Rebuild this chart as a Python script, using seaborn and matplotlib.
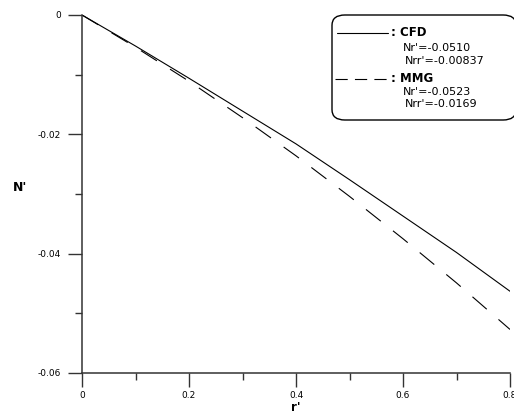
import numpy as np
import pandas as pd
import seaborn as sns
import matplotlib.pyplot as plt
from matplotlib.patches import FancyBboxPatch
from matplotlib.ticker import MultipleLocator

# data
r_vals = [0.0, 0.1, 0.2, 0.3, 0.4, 0.5, 0.6, 0.7, 0.8]
n_cfd = [0.0, -0.0052, -0.0106, -0.0161, -0.0216, -0.0276, -0.0337, -0.0398, -0.0463]
n_mmg = [0.0, -0.0054, -0.0111, -0.0172, -0.0236, -0.0304, -0.0375, -0.0449, -0.0527]
x_ticks = [0, 0.2, 0.4, 0.6, 0.8]
x_labels = ["0", "0.2", "0.4", "0.6", "0.8"]
y_ticks = [0, -0.02, -0.04, -0.06]
y_labels = ["0", "-0.02", "-0.04", "-0.06"]

df = pd.DataFrame({"r": r_vals * 2,
                   "N": n_cfd + n_mmg,
                   "model": ["CFD"] * len(r_vals) + ["MMG"] * len(r_vals)})

sns.set_style("ticks")
plt.rcParams['font.family'] = ['DejaVu Sans']
plt.rcParams['text.color'] = 'black'

fig = plt.figure(figsize=(5.14, 4.13), dpi=100)
ax = fig.add_axes([82 / 514, 40 / 413, 428 / 514, 358 / 413])

sns.lineplot(data=df, x="r", y="N", style="model", dashes={"CFD": "", "MMG": (17, 14)},
             color="black", linewidth=0.8, ax=ax, legend=False)

ax.set_xlim(0, 0.8)
ax.set_ylim(-0.06, 0)
ax.set_xticks(x_ticks)
ax.set_xticklabels(x_labels)
ax.set_yticks(y_ticks)
ax.set_yticklabels(y_labels)
ax.xaxis.set_minor_locator(MultipleLocator(0.1))
ax.yaxis.set_minor_locator(MultipleLocator(0.01))
ax.tick_params(which="major", length=10, width=1.0, color="#333333", labelsize=6.5,
               labelcolor="black", pad=3)
ax.tick_params(which="minor", length=5, width=1.0, color="#333333")
ax.tick_params(axis="y", pad=5)
for s in ["top", "right"]:
    ax.spines[s].set_visible(False)
for s in ["left", "bottom"]:
    ax.spines[s].set_linewidth(1.1)
    ax.spines[s].set_color("#333333")

ax.set_xlabel("r'", fontsize=8.5, fontweight="bold", labelpad=0, color="black")
ax.set_ylabel("N'", fontsize=9, fontweight="bold", rotation=0, labelpad=0, color="black")
ax.yaxis.set_label_coords(-0.145, 0.5)
ax.xaxis.set_label_coords(0.5, -0.079)

# legend box drawn by hand
box = FancyBboxPatch((332 / 514, 293 / 413), 184 / 514, 105 / 413,
                     boxstyle="round,pad=0,rounding_size=0.025",
                     transform=fig.transFigure, facecolor="white",
                     edgecolor="black", linewidth=1.0, zorder=5)
fig.patches.append(box)

def fx(px):
    return px / 514

def fy(py):
    return 1 - py / 413

fig.add_artist(plt.Line2D([fx(337), fx(388)], [fy(33), fy(33)], color="black",
                          linewidth=0.8, transform=fig.transFigure, zorder=6))
fig.add_artist(plt.Line2D([fx(335), fx(388)], [fy(79), fy(79)], color="black",
                          linewidth=0.8, linestyle=(0, (11, 6.5)),
                          transform=fig.transFigure, zorder=6))
fig.text(fx(391), fy(33), ": CFD", fontsize=8.5, fontweight="bold", va="center", zorder=6)
fig.text(fx(403), fy(48), "Nr'=-0.0510", fontsize=8, va="center", zorder=6)
fig.text(fx(405), fy(61), "Nrr'=-0.00837", fontsize=8, va="center", zorder=6)
fig.text(fx(391), fy(79), ": MMG", fontsize=8.5, fontweight="bold", va="center", zorder=6)
fig.text(fx(403), fy(92), "Nr'=-0.0523", fontsize=8, va="center", zorder=6)
fig.text(fx(405), fy(104), "Nrr'=-0.0169", fontsize=8, va="center", zorder=6)

fig.savefig("out.png", dpi=100)
